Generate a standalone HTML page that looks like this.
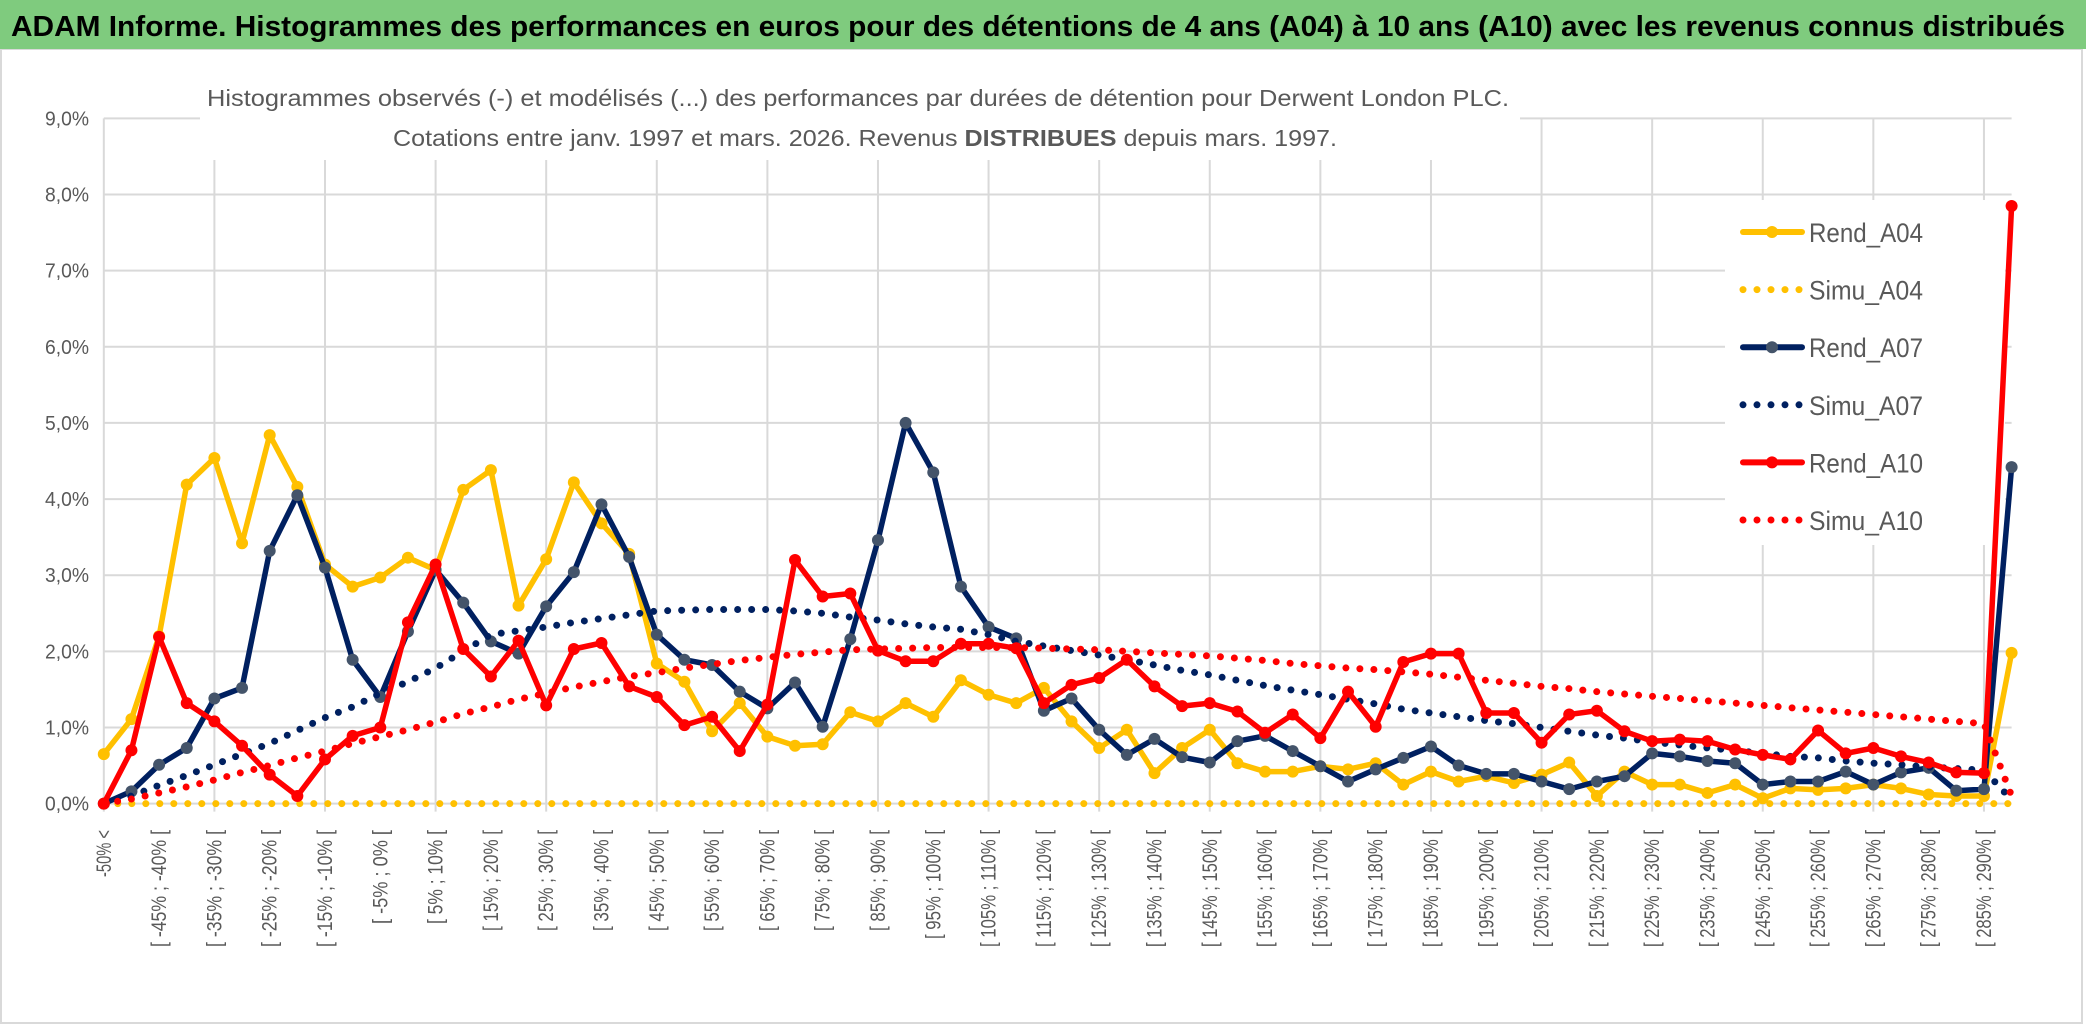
<!DOCTYPE html>
<html><head><meta charset="utf-8"><style>
html,body{margin:0;padding:0;background:#fff;width:2086px;height:1031px;overflow:hidden}
svg{display:block;font-family:"Liberation Sans",sans-serif}
</style></head><body>
<svg id="chart" width="2086" height="1031" viewBox="0 0 2086 1031" xmlns="http://www.w3.org/2000/svg">
<rect x="0" y="0" width="2086" height="1031" fill="#fff"/>
<rect x="1" y="49" width="2081" height="974" fill="none" stroke="#d9d9d9" stroke-width="2"/>
<rect x="0" y="0" width="2086" height="49" fill="#7fcb7e"/>
<text x="11" y="36" font-size="29" font-weight="bold" fill="#000" textLength="2054" lengthAdjust="spacingAndGlyphs">ADAM Informe. Histogrammes des performances en euros pour des détentions de 4 ans (A04) à 10 ans (A10) avec les revenus connus distribués</text>
<g id="grid"></g>
<rect x="200" y="78" width="1320" height="82" fill="#fff"/>
<text x="207" y="106" font-size="23" fill="#595959" textLength="1302" lengthAdjust="spacingAndGlyphs">Histogrammes observés (-) et modélisés (...) des performances par durées de détention pour Derwent London PLC.</text>
<text x="393" y="146" font-size="23" fill="#595959" textLength="944" lengthAdjust="spacingAndGlyphs">Cotations entre janv. 1997 et mars. 2026. Revenus <tspan font-weight="bold">DISTRIBUES</tspan> depuis mars. 1997.</text>
<g id="yaxis"></g>
<g id="xaxis"></g>
<rect x="1725" y="200" width="280" height="345" fill="#fff"/>
<g id="series"></g>
<g id="legend"></g>
</svg>
<script>
const categories = [];
categories.push("-50% <");
for (let i = 1; i < 70; i++) { const a = -50 + 5 * (i - 1); categories.push("[ " + a + "% ; " + (a + 5) + "% ["); }
const yTicks = [0,1,2,3,4,5,6,7,8,9];
const yTickLabels = ["0,0%","1,0%","2,0%","3,0%","4,0%","5,0%","6,0%","7,0%","8,0%","9,0%"];
const seriesNames = ["Rend_A04","Simu_A04","Rend_A07","Simu_A07","Rend_A10","Simu_A10"];
const rendA04 = [0.65,1.11,2.2,4.19,4.54,3.42,4.84,4.16,3.14,2.85,2.97,3.23,3.07,4.12,4.38,2.6,3.21,4.22,3.68,3.28,1.84,1.6,0.95,1.32,0.88,0.76,0.78,1.2,1.08,1.32,1.14,1.62,1.43,1.32,1.52,1.08,0.73,0.97,0.4,0.73,0.97,0.53,0.42,0.42,0.49,0.45,0.53,0.25,0.42,0.29,0.36,0.27,0.38,0.54,0.1,0.42,0.25,0.25,0.14,0.25,0.07,0.2,0.18,0.2,0.25,0.2,0.12,0.1,0.1,1.98];
const simuA04 = new Array(70).fill(0);
const rendA07 = [0,0.16,0.51,0.73,1.38,1.52,3.32,4.05,3.1,1.89,1.4,2.26,3.07,2.64,2.13,1.97,2.59,3.04,3.93,3.24,2.22,1.89,1.82,1.47,1.25,1.59,1.01,2.16,3.46,5.0,4.35,2.85,2.32,2.17,1.22,1.38,0.97,0.64,0.85,0.61,0.54,0.82,0.89,0.69,0.49,0.29,0.45,0.6,0.75,0.5,0.39,0.39,0.29,0.19,0.29,0.36,0.66,0.62,0.56,0.53,0.25,0.29,0.29,0.42,0.25,0.41,0.47,0.17,0.19,4.42];
const simuA07 = [0,0.1,0.24,0.37,0.51,0.65,0.79,0.96,1.13,1.27,1.45,1.6,1.78,2.0,2.22,2.27,2.32,2.38,2.43,2.48,2.53,2.54,2.55,2.55,2.55,2.53,2.5,2.45,2.41,2.36,2.32,2.29,2.22,2.13,2.07,2.01,1.95,1.89,1.82,1.75,1.69,1.62,1.55,1.49,1.43,1.37,1.31,1.24,1.19,1.14,1.09,1.05,1.0,0.95,0.9,0.86,0.81,0.77,0.73,0.7,0.66,0.62,0.6,0.56,0.53,0.51,0.48,0.46,0.44,0.05];
const rendA10 = [0,0.7,2.19,1.32,1.08,0.76,0.38,0.1,0.58,0.89,1.0,2.38,3.14,2.03,1.67,2.14,1.29,2.03,2.11,1.54,1.4,1.03,1.14,0.69,1.3,3.2,2.72,2.76,2.01,1.87,1.87,2.1,2.1,2.04,1.32,1.56,1.65,1.89,1.54,1.28,1.32,1.21,0.93,1.17,0.86,1.47,1.01,1.86,1.97,1.97,1.19,1.19,0.8,1.17,1.22,0.95,0.82,0.84,0.82,0.71,0.64,0.58,0.96,0.66,0.73,0.62,0.54,0.41,0.4,7.85];
const simuA10 = [0,0.06,0.14,0.22,0.31,0.41,0.5,0.6,0.69,0.79,0.88,0.97,1.07,1.18,1.27,1.37,1.45,1.53,1.6,1.67,1.72,1.78,1.83,1.88,1.92,1.96,1.99,2.02,2.03,2.04,2.05,2.05,2.05,2.05,2.04,2.03,2.02,2.0,1.98,1.96,1.94,1.91,1.88,1.84,1.81,1.78,1.76,1.73,1.7,1.66,1.62,1.58,1.54,1.51,1.47,1.44,1.41,1.38,1.35,1.32,1.29,1.26,1.23,1.2,1.17,1.14,1.11,1.08,1.05,0.1];

const NS = "http://www.w3.org/2000/svg";
const X0 = 103.8, X1 = 2011.6, Y0 = 803.6, Y9 = 118.4;
const xs = i => X0 + (X1 - X0) * i / (categories.length - 1);
const ys = v => Y0 - (Y0 - Y9) * v / 9;
function mk(tag, parent, attrs) { const e = document.createElementNS(NS, tag); for (const k in attrs) e.setAttribute(k, attrs[k]); parent.appendChild(e); return e; }

const grid = document.getElementById("grid");
yTicks.forEach(t => {
  const l = mk("line", grid, {x1: X0, x2: X1, y1: ys(t), y2: ys(t), stroke: "#d9d9d9", "stroke-width": 2});
  
  
});
for (let i = 0; i < categories.length; i += 4) {
  const l = mk("line", grid, {x1: xs(i), x2: xs(i), y1: ys(9), y2: ys(0) + 8, stroke: "#d9d9d9", "stroke-width": 2});
  
  
}
const ya = document.getElementById("yaxis");
yTicks.forEach((t, k) => {
  const tx = mk("text", ya, {x: 89, y: ys(t) + 7, "text-anchor": "end", "font-size": 20, fill: "#595959", textLength: 44, lengthAdjust: "spacingAndGlyphs"});
  tx.textContent = yTickLabels[k];
  
  
});
const xa = document.getElementById("xaxis");
for (let i = 0; i < categories.length; i += 2) {
  const x = xs(i) + 7, y = 830;
  const tx = mk("text", xa, {x: x, y: y, transform: "rotate(-90 " + x + " " + y + ")", "text-anchor": "end", "font-size": 21, fill: "#595959", textLength: (categories[i].length * 7.8).toFixed(0), lengthAdjust: "spacingAndGlyphs"});
  tx.textContent = categories[i];
  
  
}

const sg = document.getElementById("series");
const defs = [
  {name: "rend-a04", data: rendA04, color: "#ffc000", marker: "#ffc000", dotted: false},
  {name: "simu-a04", data: simuA04, color: "#ffc000", dotted: true},
  {name: "rend-a07", data: rendA07, color: "#002060", marker: "#44546a", dotted: false},
  {name: "simu-a07", data: simuA07, color: "#002060", dotted: true},
  {name: "rend-a10", data: rendA10, color: "#ff0000", marker: "#ff0000", dotted: false},
  {name: "simu-a10", data: simuA10, color: "#ff0000", dotted: true}
];
defs.forEach(s => {
  const g = mk("g", sg, {});
  
  
  const d = s.data.map((v, i) => (i ? "L" : "M") + xs(i).toFixed(1) + " " + ys(v).toFixed(1)).join(" ");
  const attrs = {d: d, fill: "none", stroke: s.color, "stroke-linejoin": "round", "stroke-linecap": "round"};
  if (s.dotted) { attrs["stroke-width"] = 7; attrs["stroke-dasharray"] = "0 14"; }
  else attrs["stroke-width"] = 5.5;
  const p = mk("path", g, attrs);
  
  
  if (!s.dotted) {
    s.data.forEach((v, i) => {
      const c = mk("circle", g, {cx: xs(i), cy: ys(v), r: 6, fill: s.marker});
      
      
    });
  }
});

const lg = document.getElementById("legend");
defs.forEach((s, k) => {
  const y = 232 + k * 57.6;
  const g = mk("g", lg, {});
  
  
  if (s.dotted) mk("line", g, {x1: 1743, x2: 1801, y1: y, y2: y, stroke: s.color, "stroke-width": 7, "stroke-dasharray": "0 14", "stroke-linecap": "round"});
  else { mk("line", g, {x1: 1743, x2: 1802, y1: y, y2: y, stroke: s.color, "stroke-width": 6, "stroke-linecap": "round"}); mk("circle", g, {cx: 1772, cy: y, r: 6, fill: s.marker}); }
  const t = mk("text", g, {x: 1809, y: y + 10, "font-size": 27, fill: "#595959", textLength: 114, lengthAdjust: "spacingAndGlyphs"});
  t.textContent = seriesNames[k];
});
</script>
</body></html>
